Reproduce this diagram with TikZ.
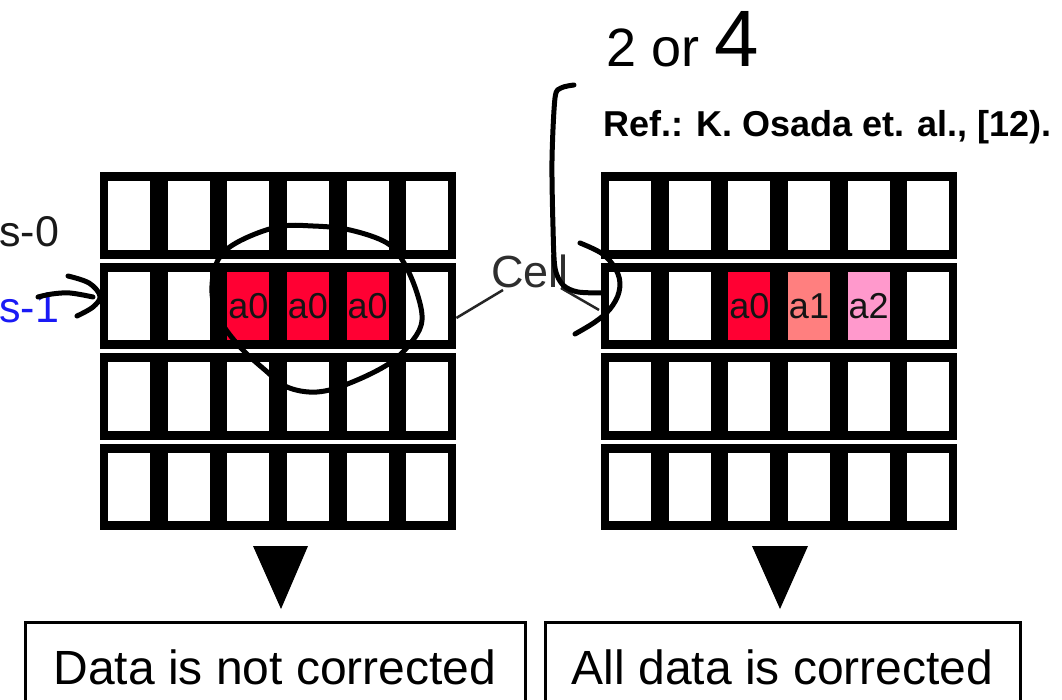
\documentclass[tikz,border=0pt]{standalone}
\usepackage{fontspec}
\setmainfont{Liberation Sans}
\usetikzlibrary{calc}
\definecolor{cred}{HTML}{FF0033}
\definecolor{csalmon}{HTML}{FF7F7F}
\definecolor{cpink}{HTML}{FF99CC}
\definecolor{cblue}{HTML}{1A1AF5}
\begin{document}
\begin{tikzpicture}[x=1pt,y=-1pt,
  rowbar/.style={fill=black, inner sep=0pt, minimum width=356pt, minimum height=86.5pt, anchor=north west},
  slot/.style={fill=white, inner sep=0pt, minimum width=42pt, minimum height=68.5pt, anchor=north west},
  datum/.style={inner sep=0pt, minimum width=42pt, minimum height=68.5pt, text=black!92, font=\fontsize{36}{36}\selectfont},
  label/.style={inner sep=0pt, anchor=base west, font=\fontsize{43}{43}\selectfont},
  result/.style={draw=black, line width=3pt, inner sep=0pt, minimum height=89pt, font=\fontsize{48}{48}\selectfont},
  cellline/.style={draw=black!85, line width=2.5pt},
  hand/.style={draw=black, line width=5pt, line cap=round, line join=round}]
\useasboundingbox (0,0) rectangle (1062,700);
\clip (0,0) rectangle (1062,700);

% two memory arrays: four word rows of six cells each
\foreach \g/\gx in {L/100, R/601} {
  \foreach \r/\ry in {1/172, 2/262.5, 3/353, 4/443.5} {
    \node[rowbar] (\g\r) at (\gx,\ry) {};
    \foreach \i in {0,...,5} {
      \node[slot] (\g\r-\i) at ({\gx+8+59.6*\i},\ry+9) {};
    }
  }
}

% stored data in the selected row
\node[datum, fill=cred] (la) at (L2-2) {a0};
\node[datum, fill=cred] (lb) at (L2-3) {a0};
\node[datum, fill=cred] (lc) at (L2-4) {a0};
\node[datum, fill=cred] (ra) at (R2-2) {a0};
\node[datum, fill=csalmon] (rb) at (R2-3) {a1};
\node[datum, fill=cpink] (rc) at (R2-4) {a2};

% row labels
\node[label, text=black!90] (s0) at (-1,247) {s-0};
\node[label, text=cblue] (s1) at (-1,323) {s-1};

% cell callout
\node[inner sep=0pt, anchor=base west, text=black!82, font=\fontsize{45}{45}\selectfont] (cell) at (491,288) {Cell};
\draw[cellline] ($(L2.east)+(0,12)$) -- ($(cell.base west)+(12,2)$);
\draw[cellline] ($(cell.base east)+(-8,0)$) -- ($(R2.west)+(-2,4)$);

% reference
\node[inner sep=0pt, anchor=base west, font=\bfseries\fontsize{36}{36}\selectfont] (ref) at (603,137) {Ref.: K. Osada et. al., [12).};

% outcome arrows and boxes
\fill (253,546) -- (308,546) -- (281,609) -- cycle;
\fill (752,546) -- (808,546) -- (780,609) -- cycle;
\node[result, minimum width=500pt, anchor=north west] (nc) at (23.5,621) {Data is not corrected};
\node[result, minimum width=475pt, anchor=north west] (ac) at (543.5,621) {All data is corrected};

% hand-drawn annotations
\draw[hand] plot[smooth cycle, tension=0.6] coordinates {
  (313,226) (350,230) (387,243) (404,263) (417,293) (422,320) (413,340)
  (390,363) (350,383) (317,392) (287,387) (265,370) (240,347) (220,320)
  (212,293) (217,262) (236,243) (277,227)};
\draw[hand] plot[smooth, tension=0.6] coordinates {(38,297) (52,294) (70,293) (93,297)};
\draw[hand] plot[smooth, tension=0.6] coordinates {(68,276) (89,283) (100,296) (93,307) (77,316)};
\draw[hand] plot[smooth, tension=0.5] coordinates {(574,85) (561,88) (555,98) (552,160) (553,227) (555,268) (563,285) (578,292) (606,293)};
\draw[hand] plot[smooth, tension=0.6] coordinates {(580,243) (604,255) (618,274) (619,292) (610,309) (595,322) (575,334)};
\node[inner sep=0pt, anchor=base west, font=\fontsize{54}{54}\selectfont] (hw) at (606,67) {2 or \fontsize{80}{80}\selectfont 4};
\end{tikzpicture}
\end{document}
